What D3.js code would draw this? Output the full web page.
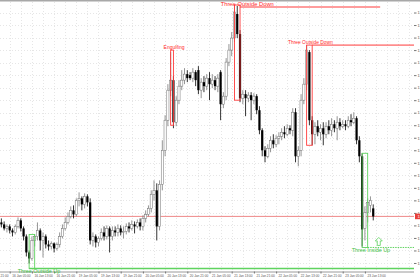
<!DOCTYPE html>
<html>
<head>
<meta charset="utf-8">
<script src="https://cdn.jsdelivr.net/npm/d3@7"></script>
<style>
    body { margin: 0; background: #fff; }
    #chart { width: 420px; height: 280px; }
</style>
</head>
<body>
<div id="chart"></div>
<script>

// hourly bars: [open, high, low, close]
const ohlc = [
    [135.56,135.64,135.46,135.52],[135.52,135.58,135.40,135.44],[135.44,135.52,135.36,135.48],[135.48,135.52,135.34,135.40],
    [135.40,135.44,135.28,135.36],[135.36,135.52,135.32,135.48],[135.48,135.66,135.44,135.60],[135.60,135.64,135.38,135.44],
    [135.44,135.48,135.20,135.28],[135.28,135.32,134.88,134.96],[134.96,135.00,134.74,134.84],[134.84,135.28,134.80,135.20],
    [135.20,135.32,135.08,135.28],[135.28,135.56,135.20,135.40],[135.40,135.44,135.00,135.20],[135.20,135.36,134.86,135.28],
    [135.28,135.32,135.04,135.12],[135.12,135.20,135.00,135.08],[135.08,135.18,135.02,135.14],[135.14,135.16,134.96,135.04],
    [135.04,135.16,135.00,135.12],[135.12,135.36,135.06,135.28],[135.28,135.52,135.24,135.44],[135.44,135.66,135.40,135.56],
    [135.56,135.76,135.52,135.68],[135.68,135.88,135.64,135.80],[135.80,135.90,135.64,135.72],[135.72,136.04,135.68,136.00],
    [136.00,136.16,135.88,136.04],[136.04,136.08,135.80,135.92],[135.92,136.14,135.84,136.08],[136.08,136.12,135.88,135.96],
    [135.96,136.04,135.12,135.20],[135.20,135.36,135.08,135.28],[135.28,135.32,135.06,135.16],[135.16,135.28,135.08,135.24],
    [135.24,135.44,135.20,135.36],[135.36,135.48,135.20,135.28],[135.28,135.50,135.22,135.44],[135.44,135.48,134.96,135.28],
    [135.28,135.48,135.20,135.40],[135.40,135.48,135.28,135.36],[135.36,135.52,135.28,135.44],[135.44,135.50,135.30,135.36],
    [135.36,135.48,135.24,135.38],[135.38,135.54,135.32,135.48],[135.48,135.56,135.36,135.44],[135.44,135.60,135.40,135.52],
    [135.52,135.58,135.34,135.48],[135.48,135.62,135.44,135.56],[135.56,135.64,135.40,135.48],[135.48,135.70,135.40,135.64],
    [135.64,135.80,135.56,135.72],[135.72,135.90,135.68,135.84],[135.84,136.20,135.76,136.12],[136.12,136.40,136.00,136.20],
    [136.20,136.34,135.20,135.48],[135.48,136.40,135.40,136.32],[136.32,137.20,136.20,137.00],[137.00,137.70,136.88,137.60],
    [137.60,138.32,137.48,138.20],[138.20,138.96,138.08,138.40],[138.40,138.48,137.44,137.56],[137.56,138.08,137.48,138.00],
    [138.00,138.40,137.92,138.28],[138.28,138.60,138.20,138.40],[138.40,138.64,138.32,138.52],[138.52,138.60,138.36,138.44],
    [138.50,138.56,138.40,138.44],[138.44,138.64,138.36,138.56],[138.56,138.60,138.28,138.40],[138.60,138.68,138.12,138.20],
    [138.20,138.44,138.04,138.36],[138.36,138.48,138.16,138.28],[138.28,138.52,138.20,138.44],[138.44,138.56,138.00,138.32],
    [138.32,138.52,138.24,138.40],[138.40,138.48,138.20,138.28],[138.28,138.52,138.16,138.44],[138.56,138.60,137.60,137.92],
    [137.92,138.16,137.84,138.08],[138.08,138.84,138.00,138.76],[138.76,139.12,138.68,139.00],[139.00,139.36,138.88,139.24],
    [139.24,139.90,139.16,139.76],[139.72,139.88,139.24,139.32],[139.32,139.40,137.96,138.04],[138.04,138.20,137.92,138.12],
    [138.12,138.20,137.68,138.04],[138.04,138.16,137.96,138.10],[138.10,138.16,137.60,138.00],[138.00,138.14,137.92,138.08],
    [138.08,138.12,137.72,137.80],[137.80,137.88,137.32,137.40],[137.40,137.44,136.88,137.00],[137.00,137.08,136.76,136.88],
    [136.88,137.12,136.84,137.04],[137.04,137.28,136.96,137.20],[137.20,137.32,137.04,137.12],[137.12,137.30,137.06,137.24],
    [137.24,137.36,137.12,137.28],[137.28,137.44,137.20,137.36],[137.36,137.48,137.24,137.32],[137.32,137.52,137.28,137.44],
    [137.44,137.50,137.32,137.40],[137.40,137.84,137.28,137.76],[137.76,137.84,136.76,136.88],[136.88,137.08,136.68,137.00],
    [137.00,138.12,136.88,138.00],[138.00,138.44,137.92,138.32],[138.32,139.10,138.20,139.00],[138.96,139.00,137.50,137.60],
    [137.60,137.68,137.10,137.32],[137.32,137.56,137.12,137.48],[137.48,137.60,137.28,137.36],[137.36,137.52,137.20,137.44],
    [137.44,137.56,137.10,137.32],[137.32,137.56,137.24,137.48],[137.48,137.60,137.32,137.40],[137.40,137.64,137.28,137.52],
    [137.52,137.60,137.36,137.44],[137.44,137.68,137.20,137.56],[137.56,137.64,137.40,137.48],[137.48,137.60,137.44,137.52],
    [137.52,137.60,137.40,137.48],[137.48,137.68,137.44,137.60],[137.60,137.72,137.48,137.56],[137.56,137.76,137.52,137.64],
    [137.64,137.68,137.12,137.20],[137.20,137.28,136.76,136.88],[136.88,136.94,135.08,135.42],[135.44,135.88,135.20,135.76],
    [135.76,136.04,135.56,135.96],[135.90,136.08,135.76,136.00],[135.84,135.92,135.60,135.68]
];

// time axis: bar index of each label and its text
const tickBars = [-5, 3, 11, 19, 27, 35, 43, 51, 59, 67, 75, 83, 91, 99, 107, 115, 123, 131];
const timeLabels = ["15 Jan 21:00", "16 Jan 05:00", "16 Jan 13:00", "16 Jan 21:00", "19 Jan 05:00", "19 Jan 13:00",
    "19 Jan 21:00", "20 Jan 05:00", "20 Jan 13:00", "20 Jan 21:00", "21 Jan 05:00", "21 Jan 13:00",
    "21 Jan 21:00", "22 Jan 05:00", "22 Jan 13:00", "22 Jan 21:00", "23 Jan 05:00", "23 Jan 13:00"];

const priceTicks = [139.75, 139.50, 139.25, 139.00, 138.75, 138.50, 138.25, 138.00, 137.75, 137.50, 137.25,
    137.00, 136.75, 136.50, 136.25, 136.00, 135.75, 135.50, 135.25, 135.00, 134.75];

// candlestick patterns found by the indicator
const patterns = [
    { name: "Three Outside Up",   from: 10,  to: 12,  top: 135.32, bottom: 134.64, bull: true },
    { name: "Engulfing",          from: 61,  to: 62,  top: 139.00, bottom: 137.50, bull: false },
    { name: "Three Outside Down", from: 84,  to: 86,  top: 139.90, bottom: 138.00, bull: false },
    { name: "Three Outside Down", from: 110, to: 112, top: 139.10, bottom: 137.10, bull: false },
    { name: "Three Inside Up",    from: 130, to: 132, top: 136.94, bottom: 135.06, bull: true }
];

// level lines drawn from the patterns (to = null runs to the price scale)
const levels = [
    { price: 134.64, from: 10,  to: null,  bull: true },
    { price: 139.86, from: 86,  to: 136.5, bull: false },
    { price: 139.10, from: 112, to: null,  bull: false },
    { price: 135.06, from: 132, to: null,  bull: true }
];


class CandleChart {

    constructor(parentElement, data) {
        this.parentElement = parentElement;
        this.data = data;
        this.initVis();
    }

    initVis() {
        let vis = this;

        vis.width = 420;
        vis.height = 280;
        vis.plotRight = 414;
        vis.plotBottom = 271.5;

        vis.svg = d3.select("#" + vis.parentElement).append("svg")
            .attr("width", vis.width)
            .attr("height", vis.height)
            .style("font-family", "'Liberation Sans', Arial, sans-serif");

        vis.svg.append("rect")
            .attr("width", vis.width)
            .attr("height", vis.height)
            .attr("fill", "#fff");

        // Scales
        vis.x = d3.scaleLinear()
            .domain([0, 134])
            .range([1.375, 1.375 + 2.775 * 134]);

        vis.y = d3.scaleLinear()
            .domain([134.58, 140])
            .range([vis.plotBottom, 0]);

        vis.red = "#ff3b3b";
        vis.green = "#5fd35f";

        vis.drawGrid();
        vis.drawAxes();
        vis.drawCandles();
        vis.drawPatterns();
    }

    drawGrid() {
        let vis = this;
        let grid = vis.svg.append("g").attr("class", "grid");

        // vertical grid every 4 bars
        let vBars = d3.range(-1, 150, 4).filter(d => vis.x(d) < vis.plotRight);
        grid.selectAll(".vgrid")
            .data(vBars)
            .enter().append("line")
            .attr("x1", d => Math.round(vis.x(d)) + 0.5)
            .attr("x2", d => Math.round(vis.x(d)) + 0.5)
            .attr("y1", 2)
            .attr("y2", vis.plotBottom)
            .attr("stroke", "#e6e6e6")
            .attr("stroke-dasharray", "1,2");

        grid.selectAll(".hgrid")
            .data(priceTicks)
            .enter().append("line")
            .attr("x1", 0)
            .attr("x2", vis.plotRight)
            .attr("y1", d => Math.round(vis.y(d)) + 0.5)
            .attr("y2", d => Math.round(vis.y(d)) + 0.5)
            .attr("stroke", "#e6e6e6")
            .attr("stroke-dasharray", "1,2");

        // window frame on top
        vis.svg.append("rect")
            .attr("x", 0).attr("y", 0)
            .attr("width", vis.width).attr("height", 1.5)
            .attr("fill", "#a8a8a8");
    }

    drawAxes() {
        let vis = this;

        vis.xAxis = d3.axisBottom(vis.x)
            .tickValues(tickBars)
            .tickFormat((d, i) => timeLabels[i])
            .tickSize(2)
            .tickSizeOuter(0);

        let xg = vis.svg.append("g")
            .attr("class", "x-axis axis")
            .attr("transform", "translate(0," + vis.plotBottom + ")")
            .call(vis.xAxis);

        xg.select(".domain")
            .attr("d", "M0,0.5H" + vis.plotRight)
            .attr("stroke", "#9a9a9a");
        xg.selectAll(".tick line").attr("stroke", "#777");
        xg.selectAll(".tick text")
            .attr("text-anchor", "start")
            .attr("x", 2)
            .attr("y", 3)
            .attr("dy", "0.75em")
            .attr("fill", "#555")
            .style("font-size", "3.2px");

        vis.yAxis = d3.axisRight(vis.y)
            .tickValues(priceTicks)
            .tickFormat(d3.format(".2f"))
            .tickSize(2.5);

        let yg = vis.svg.append("g")
            .attr("class", "y-axis axis")
            .attr("transform", "translate(" + vis.plotRight + ",0)")
            .call(vis.yAxis);

        yg.select(".domain").remove();
        yg.selectAll(".tick line").attr("stroke", "#777");
        yg.selectAll(".tick text")
            .attr("x", 3.5)
            .attr("fill", "#555")
            .style("font-size", "4px");
    }

    drawCandles() {
        let vis = this;
        let data = vis.data.map((d, i) => ({ i: i, o: d[0], h: d[1], l: d[2], c: d[3] }));

        // bid line at the last close
        let bid = data[data.length - 1].c;
        vis.svg.append("line")
            .attr("x1", 0).attr("x2", vis.plotRight)
            .attr("y1", vis.y(bid)).attr("y2", vis.y(bid))
            .attr("stroke", "#ec7b7b")
            .attr("stroke-width", 0.9);

        let bidTag = vis.svg.append("g")
            .attr("transform", `translate(${vis.plotRight + 1}, ${vis.y(bid)})`);
        bidTag.append("rect")
            .attr("x", 0).attr("y", -2.8)
            .attr("width", 8).attr("height", 5.6)
            .attr("fill", "#e8413a");
        bidTag.append("text")
            .attr("x", 2.5).attr("y", 1.5)
            .attr("fill", "#fff")
            .style("font-size", "4px")
            .text(d3.format(".2f")(bid));

        let candles = vis.svg.append("g").attr("class", "candles")
            .selectAll(".candle")
            .data(data)
            .enter().append("g")
            .attr("class", "candle");

        candles.append("line")
            .attr("x1", d => vis.x(d.i))
            .attr("x2", d => vis.x(d.i))
            .attr("y1", d => vis.y(d.h))
            .attr("y2", d => vis.y(d.l))
            .attr("stroke", d => d.c >= d.o ? "#7a7a7a" : "#000")
            .attr("stroke-width", 0.8);

        candles.append("rect")
            .attr("x", d => vis.x(d.i) - 1.1)
            .attr("width", 2.2)
            .attr("y", d => vis.y(Math.max(d.o, d.c)))
            .attr("height", d => Math.max(0.8, Math.abs(vis.y(d.o) - vis.y(d.c))))
            .attr("fill", d => d.c >= d.o ? "#fff" : "#000")
            .attr("stroke", d => d.c >= d.o ? "#6e6e6e" : "none")
            .attr("stroke-width", 0.5);
    }

    drawPatterns() {
        let vis = this;
        let layer = vis.svg.append("g").attr("class", "patterns");

        // level lines
        let levelDash = [null, null, null, "1.5,1"];
        let levelWidth = [1.4, 1, 1, 1];
        layer.selectAll(".level")
            .data(levels)
            .enter().append("line")
            .attr("class", "level")
            .attr("x1", d => vis.x(d.from))
            .attr("x2", d => d.to === null ? vis.plotRight : vis.x(d.to))
            .attr("y1", d => vis.y(d.price))
            .attr("y2", d => vis.y(d.price))
            .attr("stroke", d => d.bull ? vis.green : vis.red)
            .attr("stroke-width", (d, i) => levelWidth[i])
            .attr("stroke-dasharray", (d, i) => levelDash[i]);

        // pattern boxes
        layer.selectAll(".pbox")
            .data(patterns)
            .enter().append("rect")
            .attr("class", "pbox")
            .attr("x", d => vis.x(d.from))
            .attr("y", d => vis.y(d.top))
            .attr("width", d => vis.x(d.to) - vis.x(d.from))
            .attr("height", d => vis.y(d.bottom) - vis.y(d.top))
            .attr("fill", "none")
            .attr("stroke", d => d.bull ? vis.green : vis.red)
            .attr("stroke-width", 0.9);

        // labels: bearish above the box, bullish below it
        let labelDx = [7, 2, 10, 1, 6];
        let labelDy = [0, 0, 2.2, 0, 0];
        let labelSize = [5.4, 5, 5.8, 4.9, 5.4];
        layer.selectAll(".plabel")
            .data(patterns)
            .enter().append("text")
            .attr("class", "plabel")
            .attr("x", (d, i) => (vis.x(d.from) + vis.x(d.to)) / 2 + labelDx[i])
            .attr("y", (d, i) => (d.bull ? vis.y(d.bottom) + 5 : vis.y(d.top) - 1.5) + labelDy[i])
            .attr("text-anchor", "middle")
            .attr("fill", d => d.bull ? "#3fc13f" : "#ff2a2a")
            .style("font-size", (d, i) => labelSize[i] + "px")
            .text(d => d.name);

        // buy arrow after the last bullish pattern
        let last = patterns[patterns.length - 1];
        let ax = vis.x(last.to + 4);
        let ay = vis.y(last.bottom) - 2;
        layer.append("path")
            .attr("d", `M${ax},${ay - 8} l3.5,3.5 h-2 v4.5 h-3 v-4.5 h-2 z`)
            .attr("fill", "#fff")
            .attr("stroke", vis.green)
            .attr("stroke-width", 0.8);
    }
}

new CandleChart("chart", ohlc);

</script>
</body>
</html>
